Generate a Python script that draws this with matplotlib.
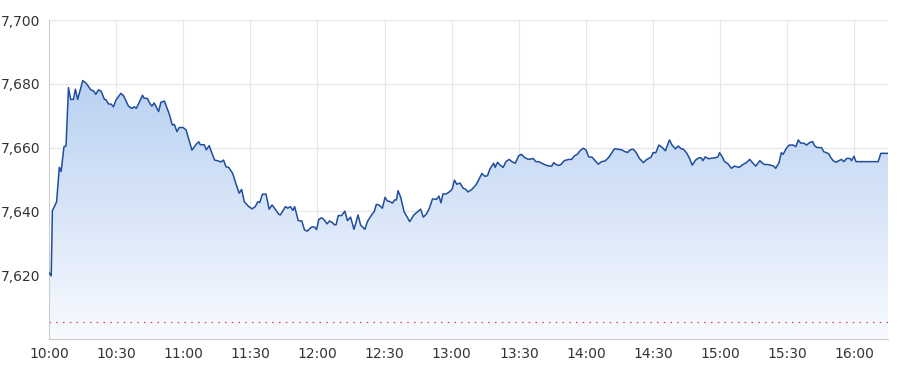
import numpy as np
import matplotlib
matplotlib.use("Agg")
import matplotlib.pyplot as plt
from matplotlib.colors import LinearSegmentedColormap

# minutes since 10:00 and index level
minutes = [0, 1, 1.5, 3.4, 4.6, 5.4, 6.7, 7.6, 8.7, 9.7, 10.9, 11.8, 12.8, 15.1, 16.6,
           18.7, 19.9, 20.9, 22.1, 23.3, 24.8, 25.5, 26.6, 27.8, 28.8, 29.9, 32.1, 33.3,
           34.2, 35.5, 37.0, 38.1, 39.0, 40.0, 41.8, 42.5, 44.0, 45.2, 46.0, 47.0, 49.0,
           50.0, 51.6, 53.9, 55.1, 56.0, 57.2, 58.2, 59.9, 61.3, 63.9, 64.9, 66.1, 67.0,
           67.6, 69.4, 70.3, 71.6, 74.0, 75.8, 76.9, 78.0, 79.1, 80.3, 82.1, 83.4, 85.0,
           86.1, 87.3, 89.3, 90.8, 92.2, 93.3, 94.2, 95.4, 97.0, 98.4, 99.7, 100.8, 102.7,
           103.4, 105.7, 106.7, 107.9, 109.0, 109.8, 111.4, 113.0, 114.2, 115.4, 116.4,
           117.6, 118.8, 119.6, 120.6, 121.8, 122.8, 124.3, 125.4, 126.6, 127.6, 128.3,
           129.3, 130.8, 132.2, 133.4, 134.8, 136.3, 137.0, 138.1, 139.3, 141.2, 142.3,
           144.2, 145.4, 146.3, 147.5, 149.0, 150.2, 151.2, 152.3, 153.5, 154.5, 155.3,
           156.0, 157.2, 158.7, 160.2, 161.2, 163.1, 165.1, 166.1, 167.3, 168.7, 169.9,
           171.4, 173.2, 174.3, 175.2, 176.1, 177.3, 178.5, 179.6, 180.3, 181.2, 182.3,
           183.7, 185.1, 186.3, 187.3, 189.0, 190.8, 192.0, 193.5, 194.8, 196.0, 197.0,
           197.9, 198.8, 199.4, 200.5, 201.5, 203.0, 204.2, 205.7, 206.9, 208.4, 209.9,
           211.2, 212.4, 213.9, 215.4, 216.4, 217.6, 218.8, 220.3, 222.1, 223.6, 224.7,
           225.6, 226.6, 227.8, 228.8, 230.3, 232.3, 233.6, 234.8, 236.3, 237.3, 238.8,
           240.0, 241.2, 242.7, 244.2, 245.5, 247.0, 248.5, 250.0, 251.2, 252.7, 254.2,
           256.0, 257.5, 258.7, 259.7, 261.2, 262.4, 263.9, 265.7, 267.2, 269.1, 270.0,
           271.2, 272.6, 274.0, 275.5, 277.3, 278.5, 280.0, 281.2, 282.6, 283.6, 285.1,
           286.3, 287.5, 289.0, 290.5, 291.5, 292.3, 293.3, 294.8, 296.3, 297.8, 299.0,
           299.7, 300.9, 302.0, 303.5, 305.0, 306.4, 308.4, 310.2, 311.7, 313.2, 314.4,
           315.9, 317.7, 318.9, 319.9, 321.4, 322.9, 323.9, 324.8, 326.3, 327.3, 328.1,
           329.6, 330.8, 332.6, 333.8, 334.9, 336.0, 337.4, 338.6, 339.8, 341.3, 342.3,
           343.4, 345.3, 346.3, 347.5, 348.6, 349.3, 350.5, 351.7, 352.8, 354.2, 355.3,
           356.5, 358.0, 358.7, 359.8, 360.7, 370.6, 371.8, 375.0]
prices = [7620.8, 7619.8, 7640.2, 7643.0, 7653.8, 7652.5, 7660.3, 7660.5, 7678.8, 7675.1,
          7675.1, 7678.3, 7675.1, 7681.0, 7680.2, 7678.1, 7677.8, 7676.7, 7678.1, 7677.7,
          7675.1, 7675.0, 7673.7, 7673.6, 7672.8, 7674.9, 7677.0, 7676.3, 7675.0, 7673.0,
          7672.3, 7672.8, 7672.3, 7673.7, 7676.4, 7675.5, 7675.4, 7673.7, 7673.0, 7674.0,
          7671.3, 7674.2, 7674.6, 7670.2, 7667.1, 7667.3, 7665.0, 7666.3, 7666.3, 7665.5,
          7659.2, 7660.2, 7661.3, 7661.8, 7660.9, 7660.9, 7659.3, 7660.6, 7656.1, 7655.8,
          7655.5, 7656.1, 7654.0, 7653.8, 7651.9, 7649.0, 7645.7, 7646.9, 7643.0, 7641.5,
          7640.8, 7641.5, 7643.0, 7642.8, 7645.4, 7645.4, 7640.7, 7642.0, 7641.0, 7639.1,
          7638.9, 7641.5, 7641.0, 7641.5, 7640.3, 7641.5, 7637.1, 7637.0, 7634.2, 7633.8,
          7634.5, 7635.2, 7635.0, 7634.3, 7637.5, 7638.0, 7637.5, 7636.1, 7637.0, 7636.5,
          7635.8, 7635.8, 7638.7, 7638.7, 7640.1, 7637.1, 7638.2, 7634.4, 7636.0, 7638.9,
          7635.7, 7634.4, 7636.8, 7638.9, 7640.0, 7642.2, 7642.0, 7641.0, 7644.4, 7643.3,
          7643.1, 7642.6, 7643.6, 7643.6, 7646.5, 7644.4, 7639.9, 7638.1, 7636.8, 7638.9,
          7640.1, 7640.7, 7638.2, 7639.2, 7640.8, 7643.9, 7643.8, 7644.8, 7642.7, 7645.5,
          7645.4, 7645.9, 7646.5, 7647.2, 7649.8, 7648.5, 7648.9, 7647.3, 7646.9, 7646.1,
          7646.9, 7648.3, 7649.8, 7651.9, 7651.0, 7651.2, 7653.2, 7654.2, 7655.1, 7653.8,
          7655.4, 7654.6, 7653.8, 7655.6, 7656.3, 7655.6, 7655.1, 7657.4, 7657.9, 7657.0,
          7656.4, 7656.4, 7656.6, 7655.6, 7655.6, 7655.1, 7654.5, 7654.2, 7654.2, 7655.3,
          7654.7, 7654.4, 7654.7, 7655.9, 7656.3, 7656.3, 7657.4, 7658.0, 7659.0, 7659.8,
          7659.3, 7657.1, 7657.0, 7655.8, 7654.8, 7655.6, 7655.8, 7656.8, 7658.0, 7659.6,
          7659.5, 7659.3, 7658.7, 7658.5, 7659.3, 7659.5, 7658.5, 7656.6, 7655.3, 7656.3,
          7657.0, 7658.4, 7658.4, 7660.8, 7660.1, 7659.0, 7662.4, 7660.8, 7659.6, 7660.5,
          7659.6, 7659.5, 7658.2, 7656.6, 7654.5, 7656.1, 7656.8, 7656.8, 7655.9, 7657.1,
          7656.5, 7656.7, 7656.8, 7657.1, 7658.4, 7657.1, 7655.6, 7654.9, 7653.5, 7654.2,
          7653.8, 7654.7, 7655.3, 7656.3, 7655.3, 7654.2, 7655.9, 7655.1, 7654.7, 7654.7,
          7654.4, 7654.2, 7653.5, 7655.3, 7658.4, 7657.9, 7659.8, 7660.8, 7660.8, 7660.3,
          7662.4, 7661.4, 7661.4, 7660.8, 7661.5, 7661.9, 7660.5, 7660.0, 7660.0, 7658.7,
          7658.4, 7658.0, 7657.0, 7655.9, 7655.4, 7655.8, 7656.3, 7655.6, 7656.6, 7656.6,
          7655.9, 7657.3, 7655.6, 7655.6, 7658.2, 7658.2]

prev_close = 7605.3
y_ticks = [7620, 7640, 7660, 7680, 7700]
x_ticks = [0, 30, 60, 90, 120, 150, 180, 210, 240, 270, 300, 330, 360]
x_labels = ["10:00", "10:30", "11:00", "11:30", "12:00", "12:30", "13:00",
            "13:30", "14:00", "14:30", "15:00", "15:30", "16:00"]

fig = plt.figure(figsize=(9, 3.75), dpi=100)
ax = fig.add_axes([49 / 900, 1 - 339 / 375, 839 / 900, 319 / 375])
ax.set_xlim(0, 375)
ax.set_ylim(7600, 7700)

# gradient fill under the line
poly = ax.fill_between(minutes, prices, 7600, color="none", lw=0)
cmap = LinearSegmentedColormap.from_list("g", ["#f8faff", "#b6cff1"])
grad = np.linspace(0, 1, 256).reshape(-1, 1)
img = ax.imshow(grad, cmap=cmap, origin="lower", aspect="auto",
                extent=[0, 375, 7600, 7685], zorder=1)
img.set_clip_path(poly.get_paths()[0], transform=ax.transData)

ax.plot(minutes, prices, color="#1f4e9e", lw=1.1, zorder=3)
ax.axhline(prev_close, color="#d9453f", lw=0.9, ls=(0, (1.2, 4.2)), zorder=2)

ax.set_yticks(y_ticks)
ax.set_yticklabels([f"{v:,}" for v in y_ticks])
ax.set_xticks(x_ticks)
ax.set_xticklabels(x_labels)
ax.grid(True, color="#e6e6e6", lw=0.8, zorder=0)
ax.set_axisbelow(True)
ax.tick_params(length=0, labelsize=10, labelcolor="#333333", pad=6)
for s in ["top", "right"]:
    ax.spines[s].set_visible(False)
for s in ["left", "bottom"]:
    ax.spines[s].set_color("#cccccc")
    ax.spines[s].set_linewidth(0.8)

plt.savefig("out.png", dpi=100)
